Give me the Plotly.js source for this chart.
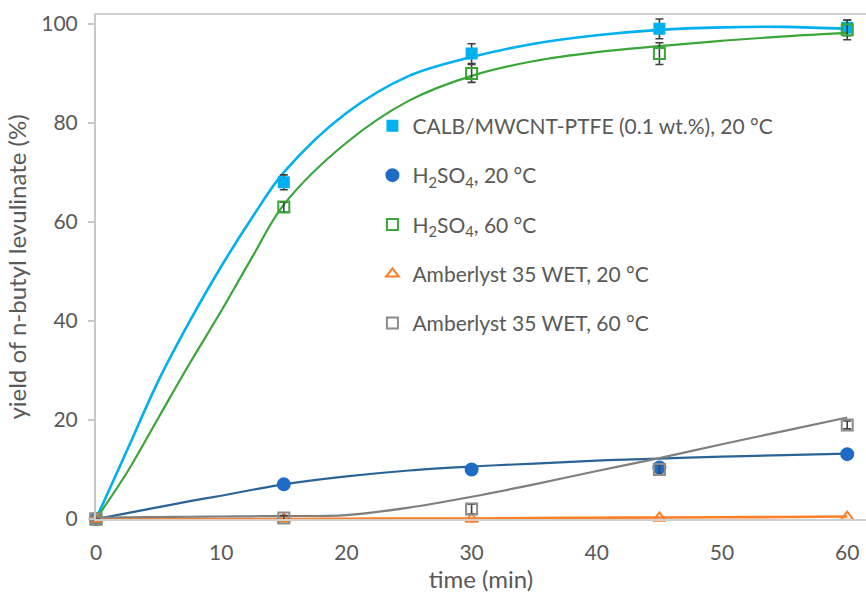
<!DOCTYPE html>
<html>
<head>
<meta charset="utf-8">
<script src="https://cdn.plot.ly/plotly-3.0.1.min.js"></script>
<style>
  html, body { margin: 0; padding: 0; background: #ffffff; }
  #chart { width: 866px; height: 596px; }
</style>
</head>
<body>
<div id="chart"></div>
<script>
// Sampling times (min)
const time = [0, 15, 30, 45, 60];

// Measured yields (%) and their standard deviations
const calb = [0, 68, 94, 99, 99.2];
const calbErr = [0, 1.5, 2, 2, 1.6];
const h2so4Cold = [0, 7, 10, 10.4, 13.1];
const h2so4Hot = [0, 63, 90, 94, 98.8];
const h2so4HotErr = [0, 1, 1.8, 2.2, 2];
const amberCold = [0, 0, 0, 0.2, 0.4];
const amberHot = [0, 0.2, 2, 10, 19];
const amberHotErr = [0, 0.5, 1, 1, 0.8];

// Kinetic model curves, sampled along the time axis
const fitTime = [0, 2.5, 5, 7.5, 10, 12.5, 15, 20, 25, 30, 35, 40, 45, 50, 55, 60];
const calbFit = [0, 14, 28, 40, 51, 61, 70, 82, 89.5, 93.3, 96, 97.7, 98.8, 99.3, 99.4, 99];
const h2so4HotFit = [0, 9.5, 20.5, 31.5, 42, 53, 63.5, 76, 84.5, 89.5, 92.5, 94.3, 95.5, 96.6, 97.5, 98.2];
const h2so4ColdFit = [0, 1.2, 2.4, 3.6, 4.7, 5.9, 7, 8.6, 9.8, 10.6, 11.2, 11.8, 12.2, 12.6, 12.9, 13.2];
const amberColdFit = [0, 0, 0, 0, 0, 0, 0, 0.05, 0.1, 0.1, 0.2, 0.25, 0.3, 0.35, 0.4, 0.5];
const amberHotFit = [0.3, 0.35, 0.4, 0.45, 0.5, 0.55, 0.6, 0.8, 2.3, 4.5, 7, 9.7, 12.3, 15.1, 17.8, 20.5];

// Series labels
const labels = [
  'CALB/MWCNT-PTFE (0.1 wt.%), 20 °C',
  'H<sub>2</sub>SO<sub>4</sub>, 20 °C',
  'H<sub>2</sub>SO<sub>4</sub>, 60 °C',
  'Amberlyst 35 WET, 20 °C',
  'Amberlyst 35 WET, 60 °C'
];

const errColor = '#404040';
function errs(arr) {
  return arr ? { type: 'data', array: arr, visible: true, color: errColor, thickness: 1.6, width: 4 } : { visible: false };
}

function curve(y, color, width) {
  return {
    x: fitTime, y: y, mode: 'lines', type: 'scatter',
    line: { color: color, width: width, shape: 'spline', smoothing: 1 },
    showlegend: false, hoverinfo: 'skip', cliponaxis: false
  };
}
function points(y, err, name, symbol, fill, edge, size, group) {
  return {
    x: time, y: y, mode: 'markers', type: 'scatter', name: name,
    legendgroup: group,
    marker: { symbol: symbol, color: fill, size: size, line: { color: edge, width: 2 } },
    error_y: errs(err), cliponaxis: false
  };
}

const traces = [
  curve(calbFit, '#00B0F0', 2.6),
  points(calb, calbErr, labels[0], 'square', '#00B0F0', '#00B0F0', 10, 'g1'),
  curve(h2so4ColdFit, '#2A6496', 2.2),
  points(h2so4Cold, null, labels[1], 'circle', '#1F6CC6', '#1F6CC6', 12, 'g2'),
  curve(h2so4HotFit, '#3AA63A', 2.2),
  points(h2so4Hot, h2so4HotErr, labels[2], 'square-open', '#3AA63A', '#3AA63A', 11, 'g3'),
  curve(amberColdFit, '#FF7F27', 2.6),
  points(amberCold, null, labels[3], 'triangle-up-open', '#FF7F27', '#FF7F27', 11, 'g4'),
  curve(amberHotFit, '#7F7F7F', 2.2),
  points(amberHot, amberHotErr, labels[4], 'square-open', '#8C8C8C', '#8C8C8C', 11, 'g5')
];

const textColor = '#595959';
const font = 'Lato, "Open Sans", sans-serif';

const layout = {
  width: 866, height: 596,
  margin: { l: 96, r: 0, t: 15, b: 77 },
  paper_bgcolor: '#ffffff', plot_bgcolor: '#ffffff',
  font: { family: font, color: textColor, size: 20 },
  showlegend: true,
  legend: {
    x: 0.359, y: 0.82, xanchor: 'left', yanchor: 'top',
    bgcolor: 'rgba(0,0,0,0)', tracegroupgap: 19,
    font: { family: font, size: 21, color: textColor },
    itemwidth: 30
  },
  xaxis: {
    range: [0, 61.5], tickvals: [0, 10, 20, 30, 40, 50, 60],
    showgrid: false, zeroline: false,
    showline: true, linecolor: '#D0D0D0', linewidth: 2, mirror: true,
    ticks: '', ticklabelstandoff: 14,
    tickfont: { family: font, size: 21, color: textColor },
    title: { text: 'time (min)', font: { family: font, size: 24, color: textColor }, standoff: 7 }
  },
  yaxis: {
    range: [0, 101.8], tickvals: [0, 20, 40, 60, 80, 100],
    showgrid: false, zeroline: false,
    showline: true, linecolor: '#C8C8C8', linewidth: 2,
    ticks: 'outside', ticklen: 6, tickcolor: '#C8C8C8', tickwidth: 1.5,
    ticklabelstandoff: 6,
    tickfont: { family: font, size: 21, color: textColor },
    title: { text: 'yield of n-butyl levulinate (%)', font: { family: font, size: 24, color: textColor }, standoff: 8 }
  }
};

Plotly.newPlot('chart', traces, layout, { staticPlot: true, displayModeBar: false });
</script>
</body>
</html>
